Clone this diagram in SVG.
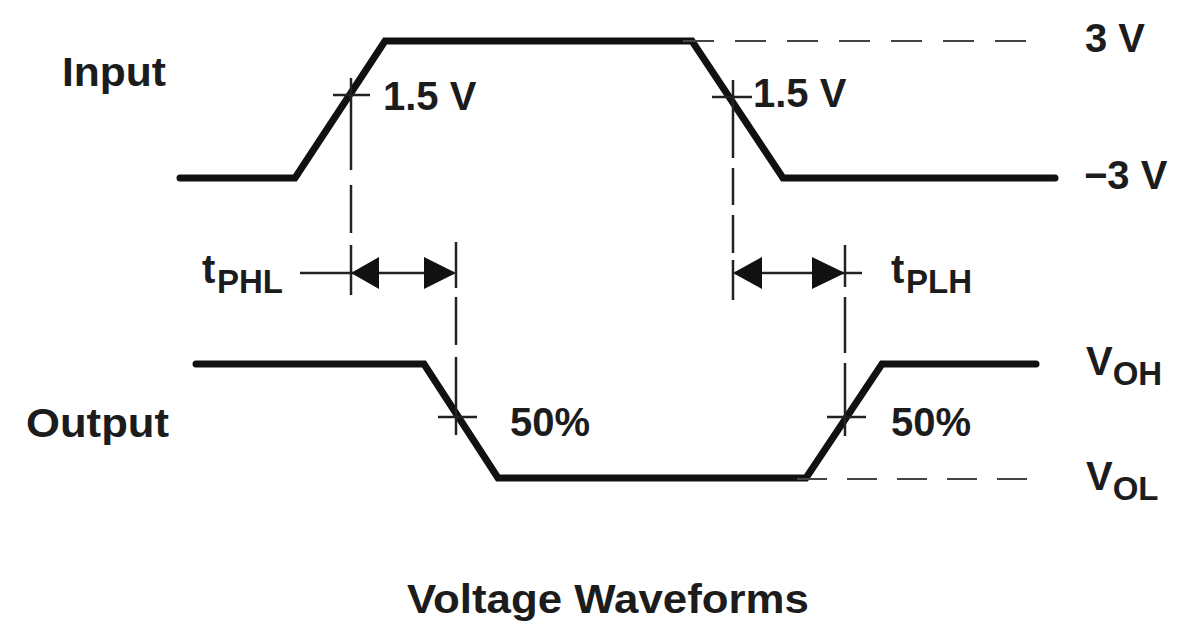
<svg xmlns="http://www.w3.org/2000/svg" width="1178" height="627" viewBox="0 0 1178 627">
<style>
.wave{fill:none;stroke:#111;stroke-width:7;stroke-linecap:round;stroke-linejoin:miter}
.thin{fill:none;stroke:#222;stroke-width:2.5}
.dashh{fill:none;stroke:#444;stroke-width:2;stroke-dasharray:30 20}
.head{fill:#111;stroke:none}
text{font-family:"Liberation Sans",Arial,Helvetica,sans-serif;font-weight:bold;fill:#1c1c1c}
.lbl{font-size:40px}
.sub{font-size:33px}
</style>
<rect width="1178" height="627" fill="#fff"/>
<g id="input-wave">
<polyline class="wave" points="180,178 295,178 385,41 692,41 783,178 1055,178"/>
</g>
<g id="output-wave">
<polyline class="wave" points="196,364 424,364 498,478 806,478 882,364 1036,364"/>
</g>
<g id="connectors">
<line class="dashh" x1="683" y1="41" x2="1028" y2="41" style="stroke-dasharray:31 21"/>
<line class="dashh" x1="797" y1="479" x2="1027" y2="479"/>
<!-- crosses -->
<line class="thin" x1="333" y1="95" x2="370" y2="95"/>
<line class="thin" x1="712" y1="97" x2="752" y2="97"/>
<line class="thin" x1="438" y1="417" x2="477" y2="417"/>
<line class="thin" x1="827" y1="417" x2="866" y2="417"/>
<!-- vertical dashed line at 351 -->
<line class="thin" x1="351" y1="78" x2="351" y2="170"/>
<line class="thin" x1="351" y1="185" x2="351" y2="233"/>
<line class="thin" x1="351" y1="245" x2="351" y2="295"/>
<!-- vertical at 456 -->
<line class="thin" x1="456" y1="242" x2="456" y2="288"/>
<line class="thin" x1="456" y1="297" x2="456" y2="345"/>
<line class="thin" x1="456" y1="357" x2="456" y2="435"/>
<!-- vertical at 733 -->
<line class="thin" x1="733" y1="80" x2="733" y2="158"/>
<line class="thin" x1="733" y1="168" x2="733" y2="205"/>
<line class="thin" x1="733" y1="215" x2="733" y2="253"/>
<line class="thin" x1="733" y1="260" x2="733" y2="300"/>
<!-- vertical at 845 -->
<line class="thin" x1="845" y1="245" x2="845" y2="287"/>
<line class="thin" x1="845" y1="297" x2="845" y2="353"/>
<line class="thin" x1="845" y1="363" x2="845" y2="436"/>
<!-- tPHL arrow -->
<line class="thin" x1="300" y1="273" x2="454" y2="273"/>
<polygon class="head" points="351,273 379,257 379,289"/>
<polygon class="head" points="456,273 424,257 424,289"/>
<!-- tPLH arrow -->
<line class="thin" x1="735" y1="273" x2="862" y2="273"/>
<polygon class="head" points="733,273 762,257 762,289"/>
<polygon class="head" points="845,273 812,257 812,289"/>
</g>
<g id="labels">
<text class="lbl" x="62" y="86" textLength="104" lengthAdjust="spacingAndGlyphs">Input</text>
<text class="lbl" x="26" y="437" textLength="143" lengthAdjust="spacingAndGlyphs">Output</text>
<text class="lbl" x="383" y="110">1.5 V</text>
<text class="lbl" x="753" y="107">1.5 V</text>
<text class="lbl" x="1085" y="52">3 V</text>
<text class="lbl" x="1084" y="189">−3 V</text>
<text class="lbl" x="510" y="436">50%</text>
<text class="lbl" x="891" y="436">50%</text>
<text class="lbl" x="1086" y="375">V<tspan class="sub" y="385">OH</tspan></text>
<text class="lbl" x="1086" y="490">V<tspan class="sub" y="500">OL</tspan></text>
<text class="lbl" x="202" y="283">t<tspan class="sub" x="217" y="293">PHL</tspan></text>
<text class="lbl" x="891" y="283">t<tspan class="sub" x="906" y="293">PLH</tspan></text>
<text class="lbl" x="407" y="613" textLength="402" lengthAdjust="spacingAndGlyphs">Voltage Waveforms</text>
</g>
</svg>
